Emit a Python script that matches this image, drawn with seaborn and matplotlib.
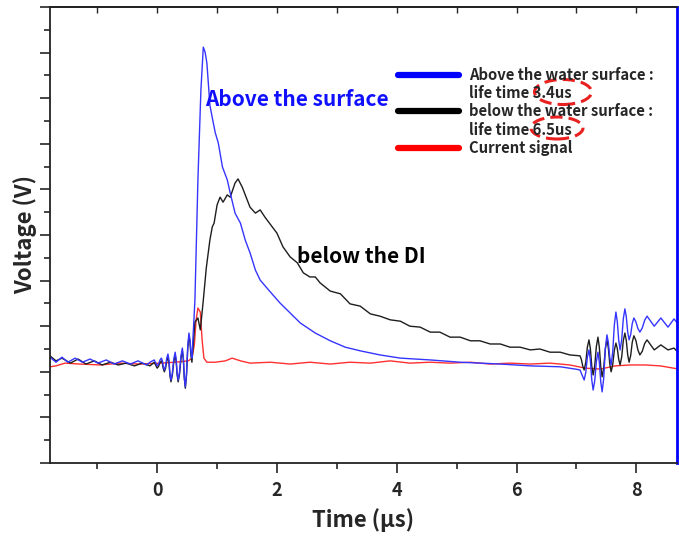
import numpy as np
import pandas as pd
import matplotlib
matplotlib.use("Agg")
import matplotlib.pyplot as plt
import seaborn as sns
from matplotlib.lines import Line2D
from matplotlib.patches import Ellipse
from matplotlib.ticker import MultipleLocator, NullFormatter

# time (us) and voltage (arb. units, axis spans 0..10)
t_above = [-1.79, -1.69, -1.59, -1.49, -1.37, -1.25, -1.12, -0.99, -0.85, -0.72,
           -0.58, -0.45, -0.32, -0.18, -0.12, -0.05,
           0.00, 0.023, 0.047, 0.07, 0.087, 0.103, 0.12, 0.14, 0.16, 0.18,
           0.197, 0.213, 0.23, 0.253, 0.277, 0.30, 0.317, 0.333, 0.35, 0.373,
           0.397, 0.42, 0.437, 0.453, 0.47, 0.49, 0.51, 0.53, 0.547, 0.563,
           0.58, 0.63, 0.68, 0.73,
           0.77, 0.80, 0.83, 0.88, 0.92, 0.97, 1.02, 1.09, 1.17, 1.22,
           1.30, 1.39, 1.47, 1.55, 1.64, 1.72, 1.89, 2.05, 2.22, 2.39,
           2.64, 2.89, 3.14, 3.39, 3.72, 4.06, 4.56, 5.06, 5.73, 6.23,
           6.73, 6.98, 7.06, 7.13, 7.157, 7.183, 7.21, 7.233, 7.257, 7.28,
           7.307, 7.333, 7.36, 7.383, 7.407, 7.43, 7.457, 7.483, 7.51, 7.533,
           7.557, 7.58, 7.607, 7.633, 7.66, 7.683, 7.707, 7.73, 7.757, 7.783,
           7.81, 7.833, 7.857, 7.88, 7.907, 7.933, 7.96, 7.993, 8.027, 8.06,
           8.10, 8.14, 8.18, 8.30, 8.41, 8.53, 8.63, 8.71]
v_above = [2.32, 2.21, 2.32, 2.21, 2.30, 2.21, 2.28, 2.19, 2.26, 2.17,
           2.24, 2.17, 2.24, 2.15, 2.21, 2.26,
           2.13, 2.17, 2.26, 2.30, 2.24, 2.11, 2.04, 2.13, 2.30, 2.39,
           2.25, 1.96, 1.82, 1.97, 2.28, 2.43, 2.28, 1.97, 1.82, 2.00,
           2.35, 2.52, 2.31, 1.88, 1.67, 1.97, 2.56, 2.85, 2.71, 2.44,
           2.30, 3.57, 6.21, 8.18,
           9.12, 9.01, 8.77, 7.85, 7.57, 7.24, 7.02, 6.49, 6.21, 5.92,
           5.48, 5.26, 4.89, 4.61, 4.23, 4.01, 3.75, 3.51, 3.29, 3.07,
           2.85, 2.68, 2.54, 2.46, 2.37, 2.30, 2.26, 2.21, 2.17, 2.13,
           2.11, 2.06, 2.04, 1.82, 1.99, 2.32, 2.48, 2.26, 1.82, 1.60,
           1.81, 2.22, 2.43, 2.21, 1.78, 1.56, 1.87, 2.50, 2.81, 2.65,
           2.32, 2.15, 2.44, 3.02, 3.31, 3.10, 2.69, 2.48, 2.71, 3.16,
           3.38, 3.21, 2.87, 2.70, 2.82, 3.06, 3.18, 3.10, 2.95, 2.87,
           2.96, 3.13, 3.22, 3.00, 3.18, 2.98, 3.16, 3.03]

t_below = [-1.79, -1.69, -1.59, -1.45, -1.32, -1.19, -1.05, -0.92, -0.78, -0.65,
           -0.52, -0.38, -0.25, -0.12, -0.05,
           0.00, 0.023, 0.047, 0.07, 0.087, 0.103, 0.12, 0.14, 0.16, 0.18,
           0.197, 0.213, 0.23, 0.253, 0.277, 0.30, 0.317, 0.333, 0.35, 0.373,
           0.397, 0.42, 0.437, 0.453, 0.47, 0.49, 0.51, 0.53, 0.547, 0.563,
           0.58, 0.63, 0.68, 0.72, 0.77,
           0.82, 0.88, 0.92, 0.95, 1.00, 1.05, 1.10, 1.17, 1.22, 1.30,
           1.35, 1.42, 1.47, 1.55, 1.64, 1.72, 1.80, 1.92, 2.00, 2.10,
           2.22, 2.34, 2.44, 2.55, 2.64, 2.72, 2.89, 3.06, 3.22, 3.39,
           3.56, 3.72, 3.89, 4.06, 4.22, 4.39, 4.56, 4.72, 4.89, 5.06,
           5.23, 5.39, 5.56, 5.73, 5.89, 6.06, 6.23, 6.39, 6.56, 6.73,
           6.89, 7.06, 7.083, 7.107, 7.13, 7.157, 7.183, 7.21, 7.233, 7.257,
           7.28, 7.307, 7.333, 7.36, 7.383, 7.407, 7.43, 7.457, 7.483, 7.51,
           7.533, 7.557, 7.58, 7.607, 7.633, 7.66, 7.683, 7.707, 7.73, 7.757,
           7.783, 7.81, 7.833, 7.857, 7.88, 7.907, 7.933, 7.96, 7.993, 8.027,
           8.06, 8.10, 8.14, 8.18, 8.30, 8.41, 8.53, 8.63, 8.71]
v_below = [2.35, 2.24, 2.30, 2.19, 2.28, 2.17, 2.24, 2.15, 2.21, 2.15,
           2.19, 2.13, 2.19, 2.13, 2.21,
           2.08, 2.12, 2.20, 2.24, 2.18, 2.06, 2.00, 2.08, 2.24, 2.32,
           2.19, 1.92, 1.78, 1.93, 2.22, 2.37, 2.22, 1.93, 1.78, 1.95,
           2.29, 2.46, 2.26, 1.85, 1.64, 1.93, 2.50, 2.79, 2.65, 2.36,
           2.21, 3.09, 3.18, 2.92, 3.57,
           4.28, 4.89, 5.18, 5.26, 5.66, 5.83, 5.72, 5.88, 5.83, 6.14,
           6.23, 6.05, 5.88, 5.61, 5.48, 5.55, 5.39, 5.18, 5.04, 4.74,
           4.52, 4.39, 4.17, 4.08, 4.08, 3.95, 3.77, 3.71, 3.49, 3.44,
           3.27, 3.22, 3.14, 3.11, 3.00, 2.98, 2.87, 2.87, 2.76, 2.76,
           2.68, 2.68, 2.61, 2.61, 2.54, 2.54, 2.48, 2.50, 2.43, 2.43,
           2.37, 2.35, 2.27, 2.12, 2.04, 2.21, 2.54, 2.70, 2.51, 2.12,
           1.93, 2.14, 2.55, 2.76, 2.54, 2.11, 1.89, 2.09, 2.50, 2.70,
           2.53, 2.18, 2.00, 2.16, 2.47, 2.63, 2.51, 2.27, 2.15, 2.33,
           2.68, 2.85, 2.69, 2.37, 2.21, 2.36, 2.65, 2.79, 2.69, 2.48,
           2.37, 2.45, 2.62, 2.70, 2.48, 2.59, 2.48, 2.52, 2.41]

t_current = [-1.79, -1.69, -1.54, -1.29, -0.95, -0.62, -0.28, 0.05, 0.30, 0.52,
             0.58, 0.62, 0.65, 0.68, 0.72, 0.75, 0.78, 0.83, 0.97, 1.14,
             1.25, 1.39, 1.55, 1.89, 2.22, 2.55, 2.89, 3.22, 3.56, 3.89,
             4.22, 4.56, 4.89, 5.23, 5.56, 5.89, 6.23, 6.56, 6.89, 7.15,
             7.40, 7.65, 7.90, 8.15, 8.40, 8.71]
v_current = [2.11, 2.13, 2.19, 2.17, 2.15, 2.19, 2.17, 2.19, 2.21, 2.24,
             2.30, 2.59, 3.14, 3.40, 3.31, 2.70, 2.30, 2.21, 2.21, 2.24,
             2.30, 2.24, 2.19, 2.21, 2.17, 2.21, 2.17, 2.21, 2.19, 2.24,
             2.19, 2.21, 2.19, 2.21, 2.17, 2.19, 2.17, 2.19, 2.15, 2.08,
             2.06, 2.13, 2.15, 2.15, 2.13, 2.06]

labels = ["Above the water surface :", "life time 3.4us",
          "below the water surface :", "life time 6.5us", "Current signal"]

sns.set_style("ticks")
plt.rcParams['font.family'] = ['Noto Sans CJK KR', 'DejaVu Sans']
plt.rcParams['font.weight'] = 'bold'

fig = plt.figure(figsize=(6.79, 5.40), dpi=100)
ax = fig.add_axes([50 / 679, 77 / 540, 627 / 679, 456 / 540])

above = pd.DataFrame({"t": t_above, "v": v_above})
below = pd.DataFrame({"t": t_below, "v": v_below})
current = pd.DataFrame({"t": t_current, "v": v_current})

sns.lineplot(data=current, x="t", y="v", color="#ff3030", lw=1.0,
             sort=False, estimator=None, ax=ax)
sns.lineplot(data=below, x="t", y="v", color="#1e1e1e", lw=1.0,
             sort=False, estimator=None, ax=ax)
sns.lineplot(data=above, x="t", y="v", color="#3535ff", lw=1.0,
             sort=False, estimator=None, ax=ax)

ax.set_xlim(-1.79, 8.68)
ax.set_ylim(0, 10)
ax.xaxis.set_major_locator(MultipleLocator(2))
ax.xaxis.set_minor_locator(MultipleLocator(1))
ax.yaxis.set_major_locator(MultipleLocator(1))
ax.yaxis.set_minor_locator(MultipleLocator(0.5))
ax.yaxis.set_major_formatter(NullFormatter())
ax.tick_params(which='major', direction='out', length=7, width=1.2,
               labelsize=13, pad=6)
ax.tick_params(which='minor', direction='out', length=4, width=1.2)
for lab in ax.get_xticklabels():
    lab.set_fontweight('bold')

top = ax.secondary_xaxis('top')
top.xaxis.set_major_locator(MultipleLocator(2))
top.xaxis.set_minor_locator(MultipleLocator(1))
top.tick_params(which='both', direction='in', length=4, width=1.0,
                labeltop=False)

for side in ['left', 'bottom', 'top']:
    ax.spines[side].set_linewidth(1.3)
    ax.spines[side].set_color('#222222')
top.spines['top'].set_linewidth(1.3)
ax.spines['right'].set_color('#0000ff')
ax.spines['right'].set_linewidth(2)

ax.set_xlabel("Time (μs)", fontsize=16, fontweight='bold', labelpad=6)
ax.set_ylabel("Voltage (V)", fontsize=16, fontweight='bold', labelpad=-4)

ax.text(0.8, 7.97, "Above the surface", color='#1010ff', fontsize=15,
        fontweight='bold', va='center', ha='left')
ax.text(2.33, 4.52, "below the DI", color='black', fontsize=15,
        fontweight='bold', va='center', ha='left')

handles = [Line2D([], [], color='#0000ff', lw=4.5),
           Line2D([], [], color='none'),
           Line2D([], [], color='black', lw=4.5),
           Line2D([], [], color='none'),
           Line2D([], [], color='#ff0000', lw=4.5)]
leg = fig.legend(handles, labels, loc='upper left',
                 bbox_to_anchor=(398 / 679, 1 - 67 / 540), frameon=False,
                 borderpad=0, borderaxespad=0, handlelength=4.1,
                 handletextpad=0.65, labelspacing=0.15,
                 prop={'size': 10.7, 'weight': 'bold'})

for cx, cy, w, h in [(563, 92, 57, 25), (557, 128, 52, 22)]:
    fig.patches.append(Ellipse((cx / 679, 1 - cy / 540), w / 679, h / 540,
                               transform=fig.transFigure, fill=False,
                               edgecolor='#e82020', lw=2.2,
                               linestyle=(0, (4, 2))))

fig.savefig("out.png", dpi=100)
